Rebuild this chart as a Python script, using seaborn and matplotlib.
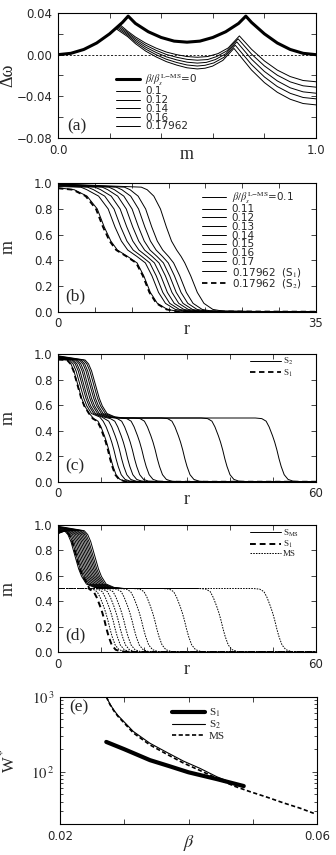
import numpy as np
import pandas as pd
import matplotlib
matplotlib.use("Agg")
import matplotlib.pyplot as plt
import seaborn as sns
from matplotlib.ticker import FixedLocator, FixedFormatter, NullFormatter, LogLocator

# ---------------- data: panel (a) ----------------
a_labels = [r'$\beta/\beta_s^{\mathrm{L{-}MS}}$=0', '0.1', '0.12', '0.14', '0.16', '0.17962']
a_m_thick = [0, 0.05, 0.1, 0.15, 0.2, 0.25, 0.272, 0.3, 0.35, 0.4, 0.45, 0.5,
             0.55, 0.6, 0.65, 0.7, 0.728, 0.75, 0.8, 0.85, 0.9, 0.95, 1.0]
a_dw_thick = [0, 0.0013, 0.005, 0.0112, 0.020, 0.031, 0.037, 0.030, 0.022, 0.0165, 0.013, 0.012,
              0.013, 0.0165, 0.022, 0.030, 0.037, 0.031, 0.020, 0.0112, 0.005, 0.0013, 0]
a_thin_m = [
    [0, 0.05, 0.1, 0.15, 0.2, 0.240, 0.27, 0.30, 0.34, 0.38, 0.42, 0.46, 0.50, 0.54, 0.58, 0.62, 0.66, 0.703, 0.75, 0.8, 0.85, 0.9, 0.95, 1.0],
    [0, 0.05, 0.1, 0.15, 0.2, 0.236, 0.27, 0.30, 0.34, 0.38, 0.42, 0.46, 0.50, 0.54, 0.58, 0.615, 0.655, 0.698, 0.75, 0.8, 0.85, 0.9, 0.95, 1.0],
    [0, 0.05, 0.1, 0.15, 0.2, 0.232, 0.27, 0.30, 0.34, 0.38, 0.42, 0.46, 0.50, 0.54, 0.575, 0.61, 0.65, 0.693, 0.75, 0.8, 0.85, 0.9, 0.95, 1.0],
    [0, 0.05, 0.1, 0.15, 0.2, 0.228, 0.27, 0.30, 0.34, 0.38, 0.42, 0.46, 0.50, 0.54, 0.57, 0.604, 0.644, 0.687, 0.75, 0.8, 0.85, 0.9, 0.95, 1.0],
    [0, 0.05, 0.1, 0.15, 0.2, 0.224, 0.27, 0.30, 0.34, 0.38, 0.42, 0.46, 0.50, 0.54, 0.57, 0.599, 0.639, 0.682, 0.75, 0.8, 0.85, 0.9, 0.95, 1.0],
]
a_thin_dw = [
    [0, 0.0013, 0.005, 0.0112, 0.020, 0.0288, 0.0225, 0.017, 0.011, 0.0063, 0.0025, 0.0, -0.0018, -0.0025, -0.0018, 0.001, 0.0065, 0.018, 0.0052, -0.006, -0.0148, -0.021, -0.0248, -0.026],
    [0, 0.0013, 0.005, 0.0112, 0.020, 0.0278, 0.0212, 0.0154, 0.0091, 0.0042, 0.0002, -0.0025, -0.0045, -0.0053, -0.0047, -0.0018, 0.0037, 0.0152, 0.0006, -0.0108, -0.0197, -0.0261, -0.0299, -0.0312],
    [0, 0.0013, 0.005, 0.0112, 0.020, 0.0269, 0.0199, 0.0138, 0.0072, 0.0021, -0.0021, -0.005, -0.0072, -0.0081, -0.0074, -0.0047, 0.0008, 0.0123, -0.0043, -0.0161, -0.0252, -0.0318, -0.0357, -0.037],
    [0, 0.0013, 0.005, 0.0112, 0.020, 0.026, 0.0186, 0.0122, 0.0053, 0.0, -0.0044, -0.0075, -0.0099, -0.0109, -0.0102, -0.0079, -0.0024, 0.0091, -0.0095, -0.0214, -0.0306, -0.0371, -0.0411, -0.0424],
    [0, 0.0013, 0.005, 0.0112, 0.020, 0.0251, 0.0173, 0.0106, 0.0034, -0.0021, -0.0067, -0.01, -0.0126, -0.0137, -0.013, -0.011, -0.0055, 0.006, -0.0147, -0.0268, -0.0361, -0.0428, -0.0469, -0.0482],
]

# ---------------- data: panel (b) ----------------
b_labels = [r'$\beta/\beta_s^{\mathrm{L{-}MS}}$=0.1', '0.11', '0.12', '0.13', '0.14', '0.15', '0.16', '0.17',
            r'0.17962  (S$_1$)', r'0.17962  (S$_2$)']
b_levels = [0.97, 0.95, 0.9, 0.8, 0.66, 0.55, 0.48, 0.43, 0.38, 0.28, 0.15, 0.065, 0.018, 0.003]
b_m0 = [0.995, 0.994, 0.992, 0.990, 0.988, 0.985, 0.980, 0.975, 0.965, 0.961]
b_r = [
    [11.3, 12.1, 13.0, 13.9, 14.7, 15.4, 16.1, 16.7, 17.2, 18.0, 18.9, 19.8, 21.0, 22.5],
    [9.0, 9.78, 10.87, 11.89, 12.72, 13.47, 14.21, 15.0, 15.68, 16.51, 17.41, 18.32, 19.55, 21.03],
    [7.9, 8.67, 9.86, 10.93, 11.78, 12.54, 13.31, 14.18, 14.96, 15.79, 16.69, 17.61, 18.86, 20.32],
    [6.9, 7.66, 8.93, 10.05, 10.92, 11.70, 12.49, 13.44, 14.30, 15.14, 16.04, 16.96, 18.23, 19.68],
    [6.0, 6.75, 8.10, 9.26, 10.14, 10.95, 11.75, 12.78, 13.70, 14.56, 15.46, 16.38, 17.66, 19.11],
    [5.0, 5.79, 7.22, 8.43, 9.33, 10.15, 10.98, 12.08, 13.08, 13.94, 14.84, 15.77, 17.06, 18.50],
    [4.0, 4.83, 6.34, 7.60, 8.51, 9.35, 10.20, 11.37, 12.45, 13.32, 14.22, 15.16, 16.46, 17.89],
    [3.1, 3.92, 5.51, 6.81, 7.73, 8.60, 9.46, 10.71, 11.85, 12.74, 13.64, 14.58, 15.90, 17.32],
    [None, 2.2, 3.94, 5.33, 6.27, 7.17, 8.06, 9.45, 10.73, 11.63, 12.53, 13.48, 14.83, 16.23],
    [None, 2.0, 3.75, 5.15, 6.1, 7.0, 7.9, 9.3, 10.6, 11.5, 12.4, 13.35, 14.7, 16.1],
]

# ---------------- data: panels (c), (d) ----------------
core_dr = [-2.5, -1.7, -1.0, 0.0, 0.8, 1.5, 2.6, 4.5, 6.8]
core_m = [0.955, 0.925, 0.87, 0.75, 0.655, 0.595, 0.535, 0.508, 0.5]
front_dr = [-5.0, -3.5, -2.5, -1.8, -1.0, -0.5, 0.0, 0.5, 1.0, 1.7, 2.6, 3.8, 6.0]
front_m = [0.5, 0.495, 0.475, 0.43, 0.36, 0.31, 0.25, 0.18, 0.12, 0.055, 0.018, 0.004, 0.0]

c_front_r = [11.8, 13.0, 14.3, 15.7, 17.3, 19.5, 22.6, 29.0, 38.3, 50.9]
c_core_mid = [4.7, 5.2, 5.7, 6.1, 6.6, 7.0, 7.5, 7.9, 8.4, 8.8]
c_m0 = [0.96, 0.963, 0.967, 0.97, 0.973, 0.976, 0.979, 0.982, 0.985, 0.988]
c_s1 = dict(m0=0.958, mid=4.6, R=11.6)

d_ms_front_r = [11.6, 12.8, 14.0, 15.3, 17.2, 19.4, 22.5, 29.4, 37.9, 50.4]
d_sms_mid = [4.0, 4.35, 4.7, 5.05, 5.4, 5.75, 6.1, 6.45, 6.8, 7.15, 7.5, 7.85, 8.2, 8.6]
d_sms_m0 = [0.93, 0.935, 0.94, 0.945, 0.95, 0.955, 0.96, 0.965, 0.97, 0.975, 0.98, 0.983, 0.986, 0.99]
d_sms_rmax = 32.5
d_s1 = dict(m0=0.95, mid=4.3, R=10.8)

# ---------------- data: panel (e) ----------------
e_beta_S1 = [0.0272, 0.030, 0.034, 0.037, 0.040, 0.0444, 0.0486]
e_W_S1 = [250, 200, 143, 119, 98.5, 80, 64.6]
e_beta_S2 = [0.0272, 0.0278, 0.0284, 0.029, 0.030, 0.0314, 0.034, 0.0366, 0.0392, 0.0418, 0.0444, 0.047, 0.0478]
e_W_S2 = [1000, 790, 660, 565, 460, 345, 240, 182, 139, 111, 86, 70, 67]
e_beta_MS = [0.0272, 0.0278, 0.0284, 0.029, 0.030, 0.0314, 0.034, 0.0366, 0.0392, 0.0418, 0.0444, 0.047,
             0.0496, 0.0522, 0.0548, 0.0574, 0.0595]
e_W_MS = [1000, 780, 645, 550, 445, 330, 228, 172, 131, 104, 82, 65, 54.3, 46, 38.5, 32.7, 28]

# ---------------- style ----------------
sns.set_style("ticks")
plt.rcParams['font.family'] = ['DejaVu Sans']
plt.rcParams['mathtext.fontset'] = 'stix'
SERIF = ['Liberation Serif', 'DejaVu Serif']
TICKFS = 8.5

fig = plt.figure(figsize=(3.36, 8.55), dpi=100)
FW, FH = 336.0, 855.0


def add_axes(l, t, r, b):
    return fig.add_axes([l / FW, 1 - b / FH, (r - l) / FW, (b - t) / FH])


axa = add_axes(58, 13, 316, 138)
axb = add_axes(58, 183.3, 316, 311.7)
axc = add_axes(58, 354.3, 316, 481.7)
axd = add_axes(58, 525, 316, 652)
axe = add_axes(60, 696.7, 317, 824.3)


def style(ax):
    ax.tick_params(which='both', direction='in', top=True, right=True, width=0.6,
                   labelsize=TICKFS, pad=4)
    ax.tick_params(which='major', length=3.5)
    ax.tick_params(which='minor', length=2)
    for s in ax.spines.values():
        s.set_linewidth(0.8)
        s.set_color('k')


def line(ax, x, y, **kw):
    sns.lineplot(x=list(x), y=list(y), ax=ax, sort=False, estimator=None, errorbar=None,
                 color='k', **kw)


def profile(m0, mid, R, xmax, rmax=None):
    r, m = [0.0], [m0]
    if mid is not None:
        lim = (R - 3.0) if R is not None else 1e9
        for dr, mv in zip(core_dr, core_m):
            x = mid + dr
            if 0 < x < lim:
                r.append(x); m.append(mv)
    last = r[-1]
    if R is not None:
        for dr, mv in zip(front_dr, front_m):
            x = R + dr
            if x > last + 0.3:
                r.append(x); m.append(mv)
        r.append(xmax); m.append(0.0)
    else:
        r.append(rmax); m.append(0.5)
    return r, m


def set_ticks(ax, ticks, labels, axis='x'):
    loc = ax.xaxis if axis == 'x' else ax.yaxis
    loc.set_major_locator(FixedLocator(ticks))
    loc.set_major_formatter(FixedFormatter(labels))


def panel_label(ax, txt, x, y):
    ax.text(x, y, txt, transform=ax.transAxes, family=SERIF, fontsize=12.5,
            ha='left', va='center')


# ---------------- panel (a) ----------------
for k in range(5):
    line(axa, a_thin_m[k], a_thin_dw[k], lw=0.7, label=a_labels[k + 1])
line(axa, a_m_thick, a_dw_thick, lw=2.2, label=a_labels[0])
axa.axhline(0, color='k', lw=0.6, ls=(0, (2.5, 2)))
axa.set_xlim(0, 1)
axa.set_ylim(-0.08, 0.04)
style(axa)
set_ticks(axa, [0, 0.2, 0.4, 0.6, 0.8, 1.0], ['0.0', '', '', '', '', '1.0'])
set_ticks(axa, [-0.08, -0.06, -0.04, -0.02, 0, 0.02, 0.04],
          ['\u22120.08', '', '\u22120.04', '', '0.00', '', '0.04'], axis='y')
h, l = axa.get_legend_handles_labels()
order = [5, 0, 1, 2, 3, 4]
axa.legend([h[i] for i in order], [l[i] for i in order], loc='upper left',
           bbox_to_anchor=(0.225, 0.53), frameon=False, fontsize=7.5, handlelength=2.3,
           handletextpad=0.5, labelspacing=-0.12, borderpad=0, borderaxespad=0)
axa.set_xlabel('m', family=SERIF, fontsize=13)
axa.set_ylabel('\u0394\u03c9', family=SERIF, fontsize=13)
axa.xaxis.set_label_coords(0.5, -0.06)
axa.yaxis.set_label_coords(-0.16, 0.5)
panel_label(axa, '(a)', 0.035, 0.09)

# ---------------- panel (b) ----------------
for k in range(10):
    rr = [0.0] + [r for r in b_r[k] if r is not None] + [35.0]
    mm = [b_m0[k]] + [lv for r, lv in zip(b_r[k], b_levels) if r is not None] + [0.0]
    if k == 9:
        line(axb, rr, mm, lw=1.3, linestyle=(0, (3, 2)), label=b_labels[k])
    else:
        line(axb, rr, mm, lw=0.7, label=b_labels[k])
axb.set_xlim(0, 35)
axb.set_ylim(0, 1)
style(axb)
set_ticks(axb, [0, 5, 10, 15, 20, 25, 30, 35], ['0', '', '', '', '', '', '', '35'])
set_ticks(axb, [0, 0.2, 0.4, 0.6, 0.8, 1.0], ['0.0', '0.2', '0.4', '0.6', '0.8', '1.0'], axis='y')
h, l = axb.get_legend_handles_labels()
axb.legend(h, l, loc='upper left', bbox_to_anchor=(0.56, 0.95), frameon=False, fontsize=7.5,
           handlelength=2.3, handletextpad=0.5, labelspacing=-0.12, borderpad=0, borderaxespad=0)
axb.set_xlabel('r', family=SERIF, fontsize=13)
axb.set_ylabel('m', family=SERIF, fontsize=13)
axb.xaxis.set_label_coords(0.5, -0.07)
axb.yaxis.set_label_coords(-0.16, 0.5)
panel_label(axb, '(b)', 0.03, 0.12)

# ---------------- panel (c) ----------------
for k in range(len(c_front_r)):
    rr, mm = profile(c_m0[k], c_core_mid[k], c_front_r[k], 60)
    line(axc, rr, mm, lw=0.7, label='S$_2$' if k == 0 else None)
rr, mm = profile(c_s1['m0'], c_s1['mid'], c_s1['R'], 60)
line(axc, rr, mm, lw=1.3, linestyle=(0, (3, 2)), label='S$_1$')
axc.set_xlim(0, 60)
axc.set_ylim(0, 1)
style(axc)
set_ticks(axc, [0, 10, 20, 30, 40, 50, 60], ['0', '', '', '', '', '', '60'])
set_ticks(axc, [0, 0.2, 0.4, 0.6, 0.8, 1.0], ['0.0', '0.2', '0.4', '0.6', '0.8', '1.0'], axis='y')
h, l = axc.get_legend_handles_labels()
axc.legend(h, l, loc='upper left', bbox_to_anchor=(0.745, 0.985), frameon=False,
           prop={'family': SERIF, 'size': 6.5}, handlelength=3.4, handletextpad=0.2,
           labelspacing=0.0, borderpad=0, borderaxespad=0)
axc.set_xlabel('r', family=SERIF, fontsize=13)
axc.set_ylabel('m', family=SERIF, fontsize=13)
axc.xaxis.set_label_coords(0.5, -0.07)
axc.yaxis.set_label_coords(-0.16, 0.5)
panel_label(axc, '(c)', 0.03, 0.12)

# ---------------- panel (d) ----------------
for k in range(len(d_sms_mid)):
    rr, mm = profile(d_sms_m0[k], d_sms_mid[k], None, 60, rmax=d_sms_rmax)
    line(axd, rr, mm, lw=0.7, label=r'S$_{\rm MS}$' if k == 0 else None)
rr, mm = profile(d_s1['m0'], d_s1['mid'], d_s1['R'], 60)
line(axd, rr, mm, lw=1.4, linestyle=(0, (3, 2)), label='S$_1$')
for k in range(len(d_ms_front_r)):
    rr, mm = profile(0.5, None, d_ms_front_r[k], 60)
    line(axd, rr, mm, lw=0.7, linestyle=(0, (1.6, 1.2)), label='MS' if k == 0 else None)
axd.set_xlim(0, 60)
axd.set_ylim(0, 1)
style(axd)
set_ticks(axd, [0, 10, 20, 30, 40, 50, 60], ['0', '', '', '', '', '', '60'])
set_ticks(axd, [0, 0.2, 0.4, 0.6, 0.8, 1.0], ['0.0', '0.2', '0.4', '0.6', '0.8', '1.0'], axis='y')
h, l = axd.get_legend_handles_labels()
axd.legend(h, l, loc='upper left', bbox_to_anchor=(0.745, 0.98), frameon=False,
           prop={'family': SERIF, 'size': 6.5}, handlelength=3.4, handletextpad=0.2,
           labelspacing=0.0, borderpad=0, borderaxespad=0)
axd.set_xlabel('r', family=SERIF, fontsize=13)
axd.set_ylabel('m', family=SERIF, fontsize=13)
axd.xaxis.set_label_coords(0.5, -0.07)
axd.yaxis.set_label_coords(-0.16, 0.5)
panel_label(axd, '(d)', 0.03, 0.13)

# ---------------- panel (e) ----------------
axe.set_yscale('log')
line(axe, e_beta_S1, e_W_S1, lw=3.0, label='S$_1$')
line(axe, e_beta_S2, e_W_S2, lw=0.8, label='S$_2$')
line(axe, e_beta_MS, e_W_MS, lw=1.2, linestyle=(0, (2.5, 1.5)), label='MS')
axe.set_xlim(0.02, 0.06)
axe.set_ylim(20, 1000)
style(axe)
set_ticks(axe, [0.02, 0.03, 0.04, 0.05, 0.06], ['0.02', '', '', '', '0.06'])
axe.yaxis.set_major_locator(FixedLocator([100, 1000]))
axe.yaxis.set_major_formatter(FixedFormatter([r'$10^{\,2}$', r'$10^{\,3}$']))
axe.yaxis.set_minor_locator(LogLocator(base=10, subs=np.arange(2, 10)))
axe.yaxis.set_minor_formatter(NullFormatter())
axe.tick_params(axis='y', which='major', labelsize=10.5)
h, l = axe.get_legend_handles_labels()
axe.legend(h, l, loc='upper left', bbox_to_anchor=(0.435, 0.92), frameon=False,
           prop={'family': SERIF, 'size': 8}, handlelength=3.0, handletextpad=0.35,
           labelspacing=-0.05, borderpad=0, borderaxespad=0)
axe.set_xlabel(r'$\beta$', fontsize=13)
axe.set_ylabel(r'W$^*$', family=SERIF, fontsize=12)
axe.xaxis.set_label_coords(0.5, -0.07)
axe.yaxis.set_label_coords(-0.16, 0.5)
panel_label(axe, '(e)', 0.035, 0.92)

fig.savefig('out.png', dpi=100)
